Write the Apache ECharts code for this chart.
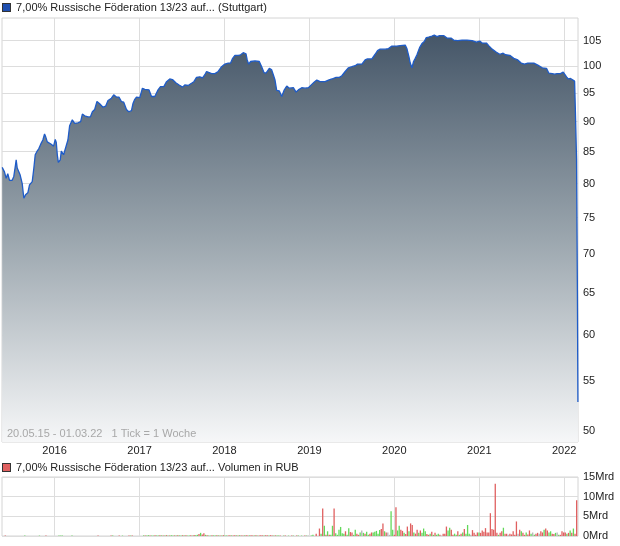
<!DOCTYPE html>
<html><head><meta charset="utf-8">
<script src="https://cdn.jsdelivr.net/npm/echarts@6/dist/echarts.min.js"></script>
<style>html,body{margin:0;padding:0;background:#fff}#c{width:620px;height:546px}</style>
</head><body><div id="c"></div>
<script>
// Price (decimal year, price)
const priceTimes = [2015.383,2015.410,2015.430,2015.449,2015.469,2015.501,2015.520,2015.540,2015.548,2015.560,2015.579,2015.595,2015.619,2015.638,2015.658,2015.685,2015.705,2015.737,2015.756,2015.772,2015.791,2015.815,2015.843,2015.862,2015.882,2015.894,2015.914,2015.961,2015.988,
2016.008,2016.020,2016.032,2016.044,2016.067,2016.079,2016.106,2016.138,2016.157,2016.177,2016.209,2016.236,2016.275,2016.307,2016.327,2016.354,2016.374,2016.393,2016.421,2016.445,2016.472,2016.499,2016.531,2016.570,2016.602,2016.629,2016.669,2016.696,2016.728,2016.758,2016.787,2016.814,2016.846,2016.873,2016.905,2016.924,2016.944,2016.964,
2017.003,2017.034,2017.062,2017.082,2017.112,2017.141,2017.180,2017.218,2017.247,2017.286,2017.318,2017.356,2017.388,2017.427,2017.466,2017.506,2017.533,2017.572,2017.612,2017.640,2017.671,2017.710,2017.742,2017.769,2017.789,2017.820,2017.848,2017.887,2017.926,2017.966,
2018.005,2018.044,2018.072,2018.096,2018.123,2018.162,2018.190,2018.221,2018.253,2018.268,2018.285,2018.308,2018.359,2018.410,2018.438,2018.465,2018.489,2018.528,2018.556,2018.575,2018.595,2018.615,2018.646,2018.674,2018.686,2018.701,2018.733,2018.764,2018.811,2018.843,2018.870,2018.910,2018.949,2018.988,
2019.028,2019.055,2019.087,2019.126,2019.185,2019.224,2019.264,2019.314,2019.353,2019.382,2019.421,2019.460,2019.500,2019.539,2019.566,2019.618,2019.656,2019.684,2019.735,2019.774,2019.802,2019.833,2019.892,2019.931,2019.971,
2020.030,2020.069,2020.128,2020.148,2020.172,2020.187,2020.207,2020.226,2020.246,2020.266,2020.297,2020.325,2020.352,2020.376,2020.403,2020.443,2020.470,2020.502,2020.533,2020.580,2020.620,2020.667,2020.698,2020.745,2020.797,2020.856,2020.915,2020.966,
2021.005,2021.033,2021.084,2021.111,2021.151,2021.202,2021.241,2021.281,2021.308,2021.359,2021.406,2021.453,2021.493,2021.532,2021.571,2021.642,2021.689,2021.741,2021.791,2021.818,2021.858,2021.886,2021.917,2021.956,2021.988,
2022.007,2022.027,2022.047,2022.074,2022.094,2022.122,2022.130,2022.145,2022.155,2022.161];
const priceValues = [82.5,81.8,80.8,81.5,80.5,80.5,81.1,82.9,83.7,82.4,82.5,81.3,80.0,77.8,78.3,78.6,79.8,80.3,82.4,84.5,85.0,85.5,86.4,86.9,87.9,87.5,86.6,86.2,85.9,
87.0,86.5,84.5,83.3,83.7,85.1,84.5,86.0,86.9,89.3,90.3,89.7,89.8,90.0,91.3,91.0,91.3,90.8,90.8,91.7,92.1,93.5,93.1,92.5,92.7,93.7,94.1,94.7,94.3,94.3,93.5,93.4,92.1,91.7,91.9,93.2,93.9,94.3,
94.2,95.9,95.7,95.6,95.6,94.4,94.4,95.6,96.2,96.2,97.1,97.6,97.5,96.9,96.5,96.1,96.5,96.4,96.8,97.1,97.9,98.0,97.8,98.4,99.0,98.8,98.6,98.6,99.0,99.9,
100.4,100.6,100.6,101.5,102.1,102.1,102.2,102.6,102.4,101.2,100.4,100.9,101.0,100.9,99.9,98.8,98.7,99.6,99.3,98.4,97.4,95.5,95.4,94.4,94.1,95.5,96.3,95.9,96.0,95.2,95.6,96.0,95.9,96.0,
96.6,97.0,97.4,97.1,97.1,97.4,97.6,97.9,97.9,98.2,99.0,99.7,99.9,100.1,100.4,100.4,101.2,101.4,101.4,102.3,103.0,103.3,103.3,103.4,103.9,
103.9,104.0,104.1,103.4,101.8,100.6,99.7,100.9,101.5,102.2,103.6,104.4,104.8,105.6,105.7,105.9,106.1,105.8,106.0,106.0,105.5,105.5,105.1,105.0,105.1,105.1,105.0,104.7,
104.9,104.5,104.5,104.0,103.3,102.7,102.3,102.5,102.2,102.1,101.5,101.2,100.6,100.4,100.6,100.6,100.2,99.7,99.6,98.7,98.6,98.5,98.6,98.6,98.9,
98.8,98.0,97.6,97.7,97.6,97.2,92.6,83.8,65.2,52.8];
const priceTicks = [50,55,60,65,70,75,80,85,90,95,100,105];
const yearTicks = [2016,2017,2018,2019,2020,2021,2022];
const xStart = 2015.381, xEnd = 2022.162;
const yMin = 48.94, yMax = 109.6;

// Weekly volume (Mrd RUB) starting at 20.05.2015, direction 1 up / -1 down / 0 unchanged
const volStart = 2015.381;
const volumes = [
0,0,0.15,0,0,0,0,0,0,0,
0,0,0,0,0.1,0,0,0,0,0,
0,0,0,0.1,0,0,0,0.1,0,0,
0,0,0,0,0,0.1,0.1,0.1,0,0,
0,0,0,0.1,0,0,0,0,0,0,
0,0,0,0,0,0,0,0,0,0.1,
0,0,0,0,0,0,0,0.1,0.1,0,
0,0,0.1,0,0.1,0,0,0,0.1,0.1,
0.1,0,0,0,0,0,0,0.15,0.1,0.15,
0.2,0.1,0.15,0.1,0.2,0.15,0.1,0.2,0.15,0.1,
0.15,0.2,0.1,0.15,0.2,0.1,0.15,0.1,0.2,0.15,
0.1,0.2,0.15,0.2,0.1,0.15,0.2,0.1,0.25,0.2,
0.3,0.5,0.8,0.4,0.7,0.3,0.2,0.15,0.1,0.2,
0.15,0.1,0.2,0.15,0.1,0.15,0.2,0.1,0.15,0.1,
0.2,0.15,0.1,0.2,0.15,0.1,0.2,0.15,0.1,0.15,
0.2,0.1,0.15,0.2,0.1,0.15,0.2,0.1,0.15,0.2,
0.15,0.1,0.2,0.15,0.1,0.2,0.15,0.1,0.15,0.1,
0.1,0.1,0,0.1,0.1,0,0.1,0,0.1,0.1,
0,0.1,0.1,0,0.1,0,0.1,0.1,0.1,0,
0.1,0.3,0,0.6,0,1.9,0.6,7.0,2.6,0.3,
1.2,0.3,0.3,2.6,7.0,0.7,0.3,1.6,2.3,0.7,
0.6,1.2,0.3,2.0,1.0,0.9,0.3,1.6,0.6,0.3,
0.9,1.4,0.8,0.6,1.1,0.3,0.6,0.9,0.9,1.1,
1.3,0.6,1.5,1.8,3.2,1.2,0.9,0.9,0.3,6.3,
1.6,0.3,7.3,1.4,2.6,1.6,1.3,0.8,0.5,2.4,
1.2,3.2,2.8,0.9,0.6,1.6,0.8,1.4,0.8,1.9,
1.2,0.5,0.3,0.6,1.1,0.3,0.8,0.3,0.6,0.3,
0.1,0.6,0.6,2.4,1.4,2.1,1.6,0.3,0.6,0.3,
1.2,0.3,0.6,0.9,1.8,0.6,2.8,0.6,0.3,1.5,
0.8,0.3,0.9,0.9,0.8,1.4,1.1,2.0,0.9,0.9,
5.8,1.8,1.6,13.3,0.8,0.3,0.8,1.2,2.1,0.6,
0.6,0.3,0.6,0.4,1.2,0.3,3.7,0.6,1.6,1.2,
0.8,0.3,0.9,0.4,1.4,0.6,0.9,0.3,0.6,0.8,
0.6,1.2,0.9,1.6,1.9,1.4,0.9,1.2,0.6,0.5,
0.8,0.9,0.3,0.3,1.2,0.9,0.9,0.6,0.8,1.4,
0.8,1.9,0.6,9.1];
const volDir = [
0,0,-1,0,0,0,0,0,0,0,
0,0,0,0,1,0,0,0,0,0,
0,0,0,1,0,0,0,-1,0,0,
0,0,0,0,0,1,1,1,0,0,
0,0,0,1,0,0,0,0,0,0,
0,0,0,0,0,0,0,0,0,-1,
0,0,0,0,0,0,0,-1,1,0,
0,0,-1,0,1,0,0,0,-1,1,
-1,0,0,0,0,0,0,1,-1,1,
1,-1,1,1,-1,1,1,-1,1,-1,
1,-1,1,-1,1,1,-1,1,-1,1,
1,-1,1,-1,1,1,-1,1,-1,1,
1,-1,1,-1,-1,1,-1,1,1,-1,
1,1,-1,1,-1,1,-1,1,1,-1,
-1,1,-1,-1,1,-1,1,-1,-1,1,
-1,-1,1,-1,-1,1,-1,1,-1,-1,
-1,1,-1,-1,1,-1,-1,1,-1,1,
1,-1,0,1,-1,0,1,0,-1,1,
0,-1,1,0,1,0,-1,1,0,0,
1,1,0,-1,0,-1,1,-1,1,-1,
1,-1,1,1,-1,1,1,1,1,1,
1,-1,1,1,-1,-1,1,1,-1,-1,
1,0,1,-1,1,1,-1,-1,1,1,
1,1,1,-1,-1,1,-1,0,0,1,
1,-1,-1,1,1,-1,-1,1,-1,-1,
1,-1,-1,1,-1,-1,1,-1,1,1,
1,-1,-1,1,-1,1,-1,1,1,-1,
0,-1,-1,-1,1,1,-1,-1,1,1,
-1,1,-1,1,-1,1,1,1,0,-1,
-1,-1,-1,1,-1,-1,-1,-1,-1,-1,
-1,-1,-1,-1,-1,1,-1,-1,1,-1,
-1,0,-1,-1,-1,-1,-1,0,-1,1,
-1,-1,1,-1,-1,1,0,1,-1,-1,
0,-1,-1,1,-1,-1,1,1,-1,-1,
1,0,1,-1,-1,-1,-1,1,-1,1,
-1,1,-1,-1];
const volTicks = [0,5,10,15];

const FONT = '"Liberation Sans", Arial, sans-serif';
const RED = '#e06060', GREEN = '#62d85a', GRAY = '#b4b4b4';
const chart = echarts.init(document.getElementById('c'), null, {renderer: 'canvas'});

const priceData = priceTimes.map((t, i) => [t, Math.log(priceValues[i])]);
const volData = volumes.map((v, i) => ({
  value: [volStart + i * 7 / 365.25, v],
  itemStyle: {color: volDir[i] > 0 ? GREEN : (volDir[i] < 0 ? RED : GRAY)}
}));

const gridLine = {show: true, lineStyle: {color: '#dddddd', width: 1}};

chart.setOption({
  animation: false,
  textStyle: {fontFamily: FONT},
  title: [
    {text: '{sq|}  7,00% Russische Föderation 13/23 auf... (Stuttgart)', left: 3, top: 2, padding: 0,
     textStyle: {fontSize: 11, fontWeight: 'normal', color: '#222', fontFamily: FONT,
       rich: {sq: {width: 7, height: 7, backgroundColor: '#1f4fb0', borderColor: '#333', borderWidth: 1}}}},
    {text: '20.05.15 - 01.03.22   1 Tick = 1 Woche', left: 7, top: 428, padding: 0,
     textStyle: {fontSize: 11, fontWeight: 'normal', color: '#a8a8a8', fontFamily: FONT}},
    {text: '{sq|}  7,00% Russische Föderation 13/23 auf... Volumen in RUB', left: 3, top: 462, padding: 0,
     textStyle: {fontSize: 11, fontWeight: 'normal', color: '#222', fontFamily: FONT,
       rich: {sq: {width: 7, height: 7, backgroundColor: '#e06060', borderColor: '#333', borderWidth: 1}}}}
  ],
  grid: [
    {left: 2, top: 18, width: 576, height: 424, show: true, borderColor: '#d4d4d4', borderWidth: 1},
    {left: 2, top: 477, width: 576, height: 59, show: true, borderColor: '#d4d4d4', borderWidth: 1}
  ],
  xAxis: [
    {type: 'value', gridIndex: 0, min: xStart, max: xEnd,
     axisLine: {show: false}, axisTick: {show: false, customValues: yearTicks},
     axisLabel: {show: true, customValues: yearTicks, formatter: v => String(Math.round(v)),
       fontSize: 11, color: '#222', margin: 3, fontFamily: FONT},
     splitLine: gridLine},
    {type: 'value', gridIndex: 1, min: xStart, max: xEnd,
     axisLine: {show: false}, axisTick: {show: false, customValues: yearTicks},
     axisLabel: {show: false}, splitLine: gridLine}
  ],
  yAxis: [
    {type: 'value', gridIndex: 0, position: 'right', min: Math.log(yMin), max: Math.log(yMax),
     axisLine: {show: false}, axisTick: {show: false, customValues: priceTicks.map(Math.log)},
     axisLabel: {customValues: priceTicks.map(Math.log), formatter: v => String(Math.round(Math.exp(v))),
       fontSize: 11, color: '#222', margin: 5, fontFamily: FONT},
     splitLine: gridLine},
    {type: 'value', gridIndex: 1, position: 'right', min: 0, max: 15, interval: 5,
     axisLine: {show: false}, axisTick: {show: false},
     axisLabel: {formatter: v => v + 'Mrd', fontSize: 11, color: '#222', margin: 5, fontFamily: FONT},
     splitLine: gridLine}
  ],
  series: [
    {type: 'line', xAxisIndex: 0, yAxisIndex: 0, data: priceData, showSymbol: false, symbol: 'none',
     lineStyle: {color: '#1f5cc8', width: 1.3},
     areaStyle: {origin: 'start', opacity: 1, color: new echarts.graphic.LinearGradient(0, 0, 0, 1, [
       {offset: 0, color: '#455668'}, {offset: 0.5, color: '#9ba6ae'}, {offset: 1, color: '#f6f7f8'}])}},
    {type: 'bar', xAxisIndex: 1, yAxisIndex: 1, data: volData, barWidth: 1.3, barMinHeight: 0}
  ]
});
</script></body></html>
